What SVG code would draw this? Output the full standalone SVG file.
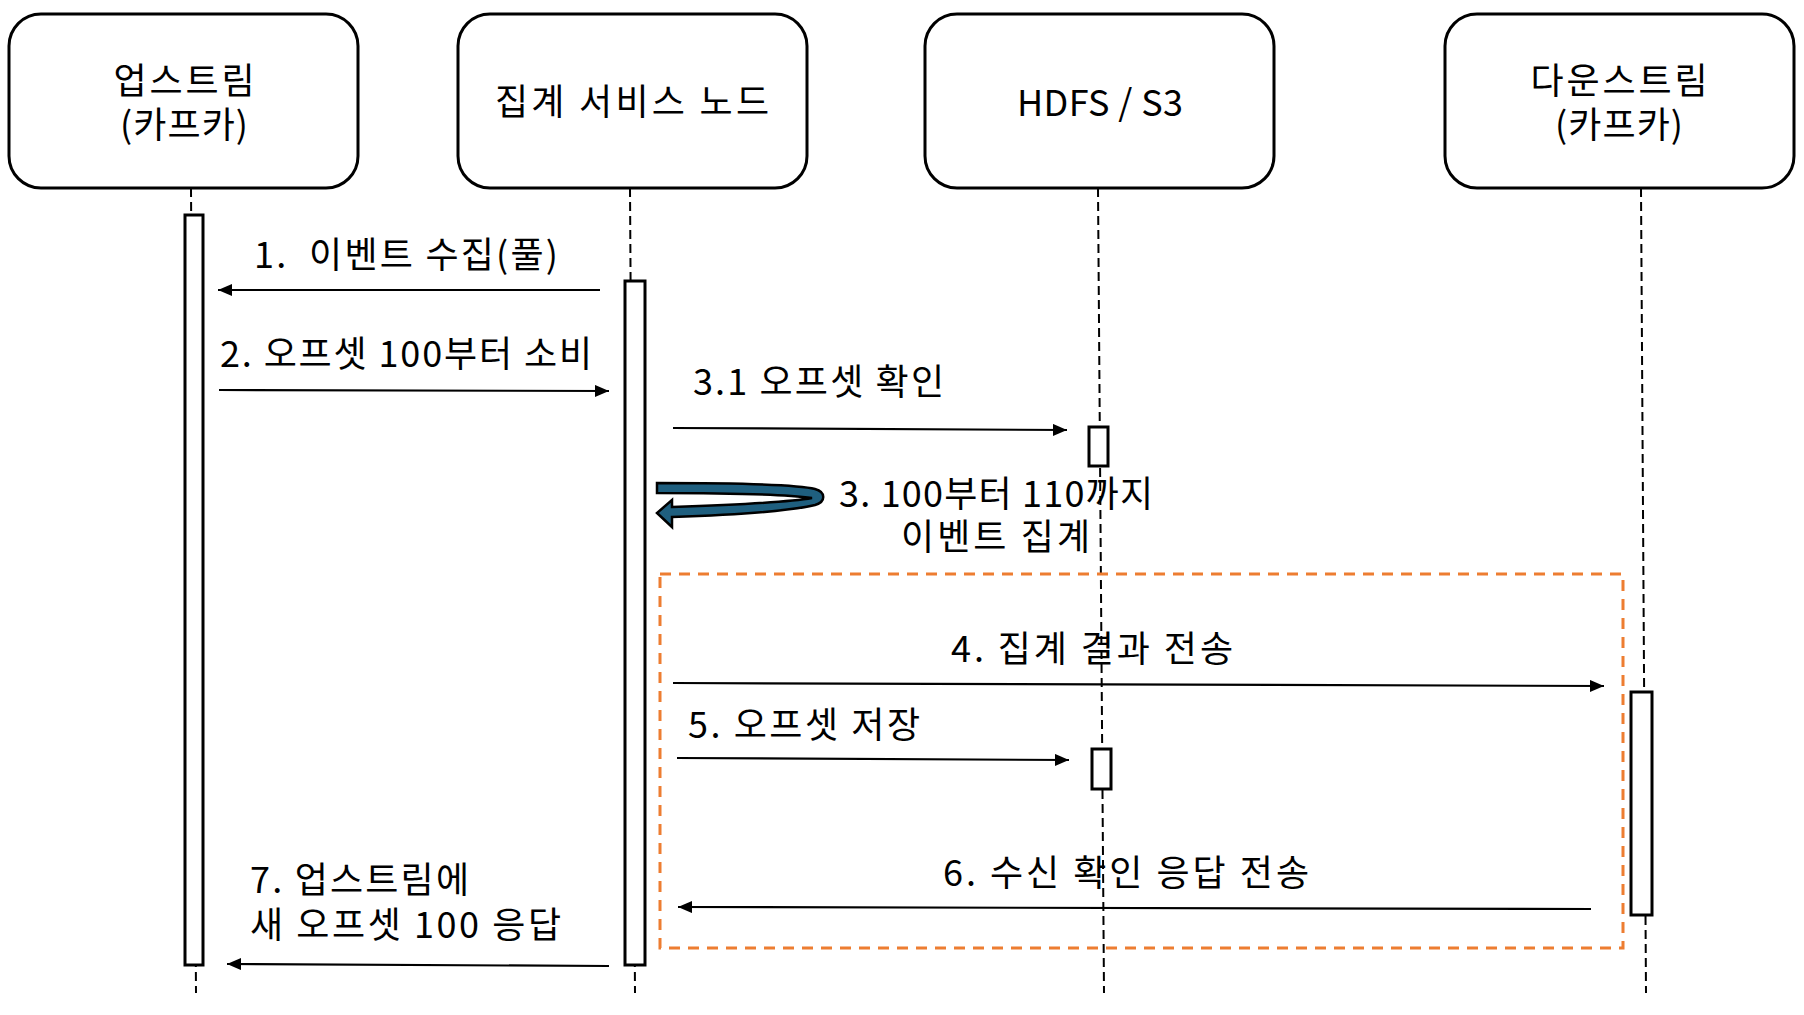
<svg xmlns="http://www.w3.org/2000/svg" width="1804" height="1015" viewBox="0 0 1804 1015">
<defs>
<style>
.box{fill:#fff;stroke:#000;stroke-width:3}
.t{font-family:"Noto Sans CJK KR","Noto Sans",sans-serif;font-size:36px;fill:#000}
.life{stroke:#000;stroke-width:2;stroke-dasharray:9 5;fill:none}
.act{fill:#fff;stroke:#000;stroke-width:3}
.msg{stroke:#000;stroke-width:2.2;fill:none;marker-end:url(#ah)}
</style>
<marker id="ah" markerUnits="userSpaceOnUse" markerWidth="15" markerHeight="12" refX="14" refY="6" orient="auto">
<path d="M0,0 L14,6 L0,12 z" fill="#000"/>
</marker>
</defs>
<rect width="1804" height="1015" fill="#fff"/>
<g id="lifelines">
<line class="life" x1="191" y1="188" x2="196" y2="993"/>
<line class="life" x1="630" y1="188" x2="635" y2="993"/>
<line class="life" x1="1098" y1="188" x2="1104" y2="993"/>
<line class="life" x1="1641" y1="188" x2="1646" y2="993"/>
</g>
<g id="node-upstream">
<rect class="box" x="9" y="14" width="349" height="174" rx="32"/>
<text class="t" x="184" y="94" text-anchor="middle" textLength="141" lengthAdjust="spacing">업스트림</text>
<text class="t" x="184" y="138" text-anchor="middle" textLength="128" lengthAdjust="spacing">(카프카)</text>
</g>
<g id="node-aggregator">
<rect class="box" x="458" y="14" width="349" height="174" rx="32"/>
<text class="t" x="632" y="115" text-anchor="middle" textLength="274" lengthAdjust="spacing">집계 서비스 노드</text>
</g>
<g id="node-hdfs">
<rect class="box" x="925" y="14" width="349" height="174" rx="32"/>
<text class="t" x="1100" y="116" text-anchor="middle" textLength="166" lengthAdjust="spacing">HDFS / S3</text>
</g>
<g id="node-downstream">
<rect class="box" x="1445" y="14" width="349" height="174" rx="32"/>
<text class="t" x="1619" y="94" text-anchor="middle" textLength="177" lengthAdjust="spacing">다운스트림</text>
<text class="t" x="1619" y="138" text-anchor="middle" textLength="128" lengthAdjust="spacing">(카프카)</text>
</g>
<g id="activations">
<rect class="act" x="185" y="215" width="18" height="750"/>
<rect class="act" x="625" y="281" width="20" height="684"/>
<rect class="act" x="1089" y="427" width="19" height="39"/>
<rect class="act" x="1092" y="749" width="19" height="40"/>
<rect class="act" x="1631" y="692" width="21" height="223"/>
</g>
<g id="group-box">
<rect x="660" y="574" width="963" height="374" fill="none" stroke="#ED7D31" stroke-width="3" stroke-dasharray="11 8"/>
</g>
<g id="connectors">
<line class="msg" x1="600" y1="290" x2="218" y2="290"/>
<line class="msg" x1="219" y1="390" x2="609" y2="391"/>
<line class="msg" x1="673" y1="428" x2="1067" y2="430"/>
<path d="M657,483 C740,483 800,485 815,489 C826,492 826,502 815,505 C790,511 730,515 672,517 L672,527 L657,513 L672,500 L672,507 C730,505 790,502 812,498 C790,495 740,493 657,493 Z" fill="#1f5f7f" stroke="#000" stroke-width="2.5"/>
<line class="msg" x1="673" y1="683" x2="1604" y2="686"/>
<line class="msg" x1="677" y1="758" x2="1069" y2="760"/>
<line class="msg" x1="1591" y1="909" x2="678" y2="907"/>
<line class="msg" x1="609" y1="966" x2="227" y2="964"/>
</g>
<g id="labels">
<text class="t" x="254" y="268" xml:space="preserve" textLength="304" lengthAdjust="spacing">1.  이벤트 수집(풀)</text>
<text class="t" x="220" y="367" textLength="372" lengthAdjust="spacing">2. 오프셋 100부터 소비</text>
<text class="t" x="693" y="395" textLength="251" lengthAdjust="spacing">3.1 오프셋 확인</text>
<text class="t" x="839" y="507" textLength="314" lengthAdjust="spacing">3. 100부터 110까지</text>
<text class="t" x="901" y="550" textLength="189" lengthAdjust="spacing">이벤트 집계</text>
<text class="t" x="951" y="662" textLength="282" lengthAdjust="spacing">4. 집계 결과 전송</text>
<text class="t" x="688" y="738" textLength="232" lengthAdjust="spacing">5. 오프셋 저장</text>
<text class="t" x="943" y="886" textLength="366" lengthAdjust="spacing">6. 수신 확인 응답 전송</text>
<text class="t" x="250" y="893" textLength="219" lengthAdjust="spacing">7. 업스트림에</text>
<text class="t" x="250" y="938" textLength="311" lengthAdjust="spacing">새 오프셋 100 응답</text>
</g>
</svg>
